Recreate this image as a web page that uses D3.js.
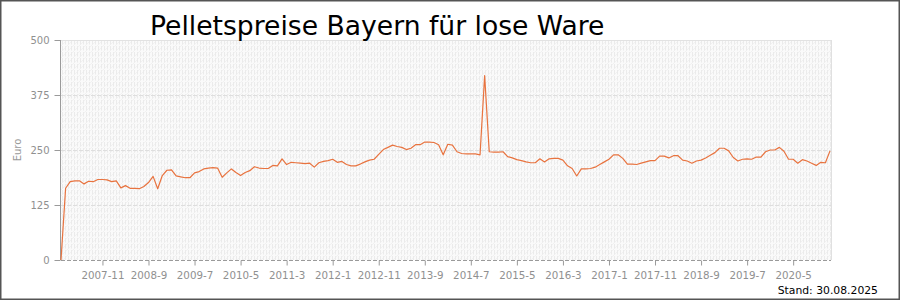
<!DOCTYPE html>
<html><head><meta charset="utf-8">
<script src="https://cdn.jsdelivr.net/npm/d3@7"></script>
<style>body{margin:0;background:#fff}svg{display:block;font-family:"DejaVu Sans",Verdana,sans-serif}</style>
</head><body><div id="chart"></div>
<script>
const title = "Pelletspreise Bayern für lose Ware";
const standText = "Stand: 30.08.2025";
const yAxisLabel = "Euro";
const yTicks = [0, 125, 250, 375, 500];
const tickLabels = ["2007-11","2008-9","2009-7","2010-5","2011-3","2012-1","2012-11","2013-9","2014-7","2015-5","2016-3","2017-1","2017-11","2018-9","2019-7","2020-5"];
const prices = [0,163,178,180,180,173,179,178,183,183,182,178,180,164,169,163,163,162,167,176,
190,162,192,204,205,191,189,187,187,198,201,207,209,210,209,188,198,207,199,192,
199,203,212,209,208,208,215,214,230,217,222,221,220,219,220,211,221,224,226,229,
222,224,217,214,214,218,223,227,229,240,251,256,261,258,256,251,254,262,262,268,
268,267,262,239,263,261,246,242,241,241,241,239,419,246,245,245,246,235,232,228,
226,223,221,221,230,223,230,231,231,227,214,208,191,207,207,208,211,217,223,229,
239,239,231,218,218,217,220,223,226,226,236,236,232,237,237,227,225,220,225,227,
232,238,244,254,254,248,233,225,229,230,229,234,234,246,250,250,256,247,229,229,
220,228,225,220,215,222,221,248];
// monthly categories starting 2007-2
const categories = prices.map((d, i) => {
  const m = 1 + i; // months after 2007-1
  const y = 2007 + Math.floor(m / 12);
  return y + "-" + (m % 12 + 1);
});

const W = 900, H = 300;
const m = {l: 61, r: 70, t: 40, b: 40};
const svg = d3.select("#chart").append("svg").attr("width", W).attr("height", H);

const defs = svg.append("defs");
const pat = defs.append("pattern").attr("id", "bg").attr("patternUnits", "userSpaceOnUse")
  .attr("width", 6).attr("height", 6).attr("x", 61).attr("y", 40);
pat.append("rect").attr("width", 6).attr("height", 6).attr("fill", "#fafafa");
pat.append("path").attr("d", "M0,6 L6,0 M-1,1 L1,-1 M5,7 L7,5").attr("stroke", "#f1f1f1").attr("stroke-width", 1);
pat.append("line").attr("x1", 1.5).attr("x2", 1.5).attr("y1", 0).attr("y2", 4.5).attr("stroke", "#ebebeb");
pat.append("line").attr("x1", 4.5).attr("x2", 4.5).attr("y1", 0).attr("y2", 4.5).attr("stroke", "#ebebeb");

const x = d3.scalePoint().domain(categories).range([m.l, W - m.r]);
const y = d3.scaleLinear().domain([0, 500]).range([H - m.b, m.t]);

// plot background
svg.append("rect").attr("x", m.l).attr("y", m.t).attr("width", W - m.r - m.l + 1).attr("height", H - m.b - m.t)
  .attr("fill", "url(#bg)");
svg.append("line").attr("x1", m.l).attr("x2", W - m.r + 1).attr("y1", m.t + 0.5).attr("y2", m.t + 0.5).attr("stroke", "#e2e2e2");
svg.append("line").attr("x1", W - m.r + 1.5).attr("x2", W - m.r + 1.5).attr("y1", m.t).attr("y2", H - m.b).attr("stroke", "#e0e0e0");

// horizontal grid
svg.append("g").selectAll("line").data(yTicks.filter(d => d > 0 && d < 500)).join("line")
  .attr("x1", m.l).attr("x2", W - m.r + 1)
  .attr("y1", d => Math.round(y(d)) + 0.5).attr("y2", d => Math.round(y(d)) + 0.5)
  .attr("stroke", "#dedede").attr("stroke-dasharray", "4,2");

// y axis
const yAxis = svg.append("g").attr("transform", `translate(${m.l - 0.5},0)`)
  .call(d3.axisLeft(y).tickValues(yTicks).tickSize(6).tickPadding(5));
yAxis.select(".domain").attr("stroke", "#9a9a9a").attr("d", `M0,${m.t}V${H - m.b}`);
yAxis.selectAll(".tick line").attr("stroke", "#9a9a9a");
yAxis.selectAll(".tick text").attr("fill", "#909090").attr("font-size", "10px")
  .attr("font-family", "DejaVu Sans, Verdana, sans-serif");

// x axis
const xAxis = svg.append("g").attr("transform", `translate(0,${H - m.b + 0.5})`)
  .call(d3.axisBottom(x).tickValues(tickLabels).tickSize(5).tickPadding(6));
xAxis.select(".domain").attr("stroke", "#9a9a9a").attr("stroke-dasharray", "4,2")
  .attr("d", `M${m.l},0H${W - m.r + 1}`);
xAxis.selectAll(".tick line").attr("stroke", "#9a9a9a");
xAxis.selectAll(".tick text").attr("fill", "#909090").attr("font-size", "10.3px")
  .attr("font-family", "DejaVu Sans, Verdana, sans-serif");

// line
svg.append("path").datum(prices)
  .attr("fill", "none").attr("stroke", "#e8733f").attr("stroke-width", 1.2)
  .attr("stroke-linejoin", "round")
  .attr("d", d3.line().x((d, i) => x(categories[i])).y(d => y(d)));

// texts
svg.append("text").attr("x", 150).attr("y", 35).attr("font-size", "26.6px").attr("fill", "#000").text(title);
svg.append("text").attr("transform", `translate(21,${(m.t + H - m.b) / 2}) rotate(-90)`)
  .attr("text-anchor", "middle").attr("font-size", "10px").attr("fill", "#999").text(yAxisLabel);
svg.append("text").attr("x", 878).attr("y", 294).attr("text-anchor", "end").attr("font-size", "10.8px")
  .attr("fill", "#000").text(standText);

// outer border
svg.append("rect").attr("x", 0.75).attr("y", 0.75).attr("width", W - 1.5).attr("height", H - 1.5)
  .attr("fill", "none").attr("stroke", "#555").attr("stroke-width", 1.5);
</script></body></html>
